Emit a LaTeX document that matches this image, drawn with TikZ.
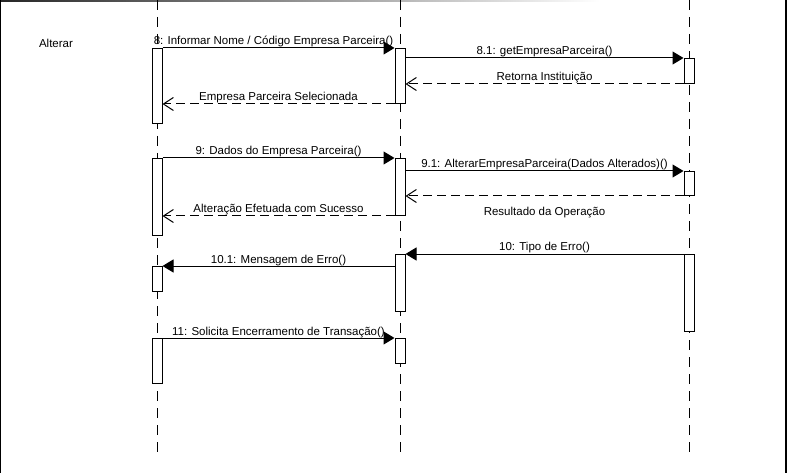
\documentclass[tikz,border=0pt]{standalone}
\usepackage{fontspec}
\setmainfont{Liberation Sans}
\usetikzlibrary{arrows.meta}
\begin{document}
\begin{tikzpicture}[x=1pt,y=-1pt,line width=1pt,
  every node/.style={font=\fontsize{11.5}{14}\selectfont},
  act/.style={draw,fill=white,minimum width=10pt,inner sep=0pt,anchor=north},
  life/.style={dash pattern=on 10pt off 7pt},
  call/.style={-{Triangle[length=11pt,width=13pt]}},
  reply/.style={dash pattern=on 9pt off 5pt,-{Straight Barb[length=10pt,width=13pt]}},
  lbl/.style={above,inner sep=0pt,text height=8.5pt,text depth=2.5pt},
  lblb/.style={below,inner sep=0pt,yshift=-10pt,text height=8.5pt,text depth=2.5pt}]
\useasboundingbox (0,0) rectangle (787,473);
% frame
\shade[left color=black!85,right color=white] (0,0) rectangle (600,1.2);
\draw (0.5,0) -- (0.5,473);
\draw[line width=1.5pt] (786,0) -- (786,473);
% lifelines
\coordinate (L1t) at (157,0); \coordinate (L1b) at (157,459);
\coordinate (L2t) at (400,0); \coordinate (L2b) at (400,458);
\coordinate (L3t) at (689,0); \coordinate (L3b) at (689,458);
\draw[life] (L1t) -- (L1b);
\draw[life] (L2t) -- (L2b);
\draw[life] (L3t) -- (L3b);
\node (alt) at (56,43) {Alterar};
% activations
\node[act,minimum height=75pt] (A1) at (157,48) {};
\node[act,minimum height=55pt] (B1) at (400,48) {};
\node[act,minimum height=25pt] (C1) at (689,58) {};
\node[act,minimum height=77pt] (A2) at (157,158) {};
\node[act,minimum height=57pt] (B2) at (400,158) {};
\node[act,minimum height=24pt] (C2) at (689,171) {};
\node[act,minimum height=57pt] (B3) at (400,254) {};
\node[act,minimum height=77pt] (C3) at (689,254) {};
\node[act,minimum height=25pt] (A3) at (157,266) {};
\node[act,minimum height=45pt] (A4) at (157,338) {};
\node[act,minimum height=25pt] (B4) at (400,338) {};
% messages
\draw[call] (A1.north east) -- node[lbl,xshift=-5pt]{8: Informar Nome / Código Empresa Parceira()} (B1.north west);
\draw[call] (B1.east |- C1.north) -- node[lbl]{8.1: getEmpresaParceira()} (C1.north west);
\draw[reply] (C1.south west) -- node[lbl]{Retorna Instituição} (B1.east |- C1.south);
\draw[reply] (B1.south west) -- node[lbl]{Empresa Parceira Selecionada} (A1.east |- B1.south);
\draw[call] (A2.north east) -- node[lbl]{9: Dados do Empresa Parceira()} (B2.north west);
\draw[call] (B2.east |- C2.north) -- node[lbl]{9.1: AlterarEmpresaParceira(Dados Alterados)()} (C2.north west);
\draw[reply] (C2.south west) -- node[lblb]{Resultado da Operação} (B2.east |- C2.south);
\draw[reply] (B2.south west) -- node[lbl]{Alteração Efetuada com Sucesso} (A2.east |- B2.south);
\draw[call] (C3.north west) -- node[lbl]{10: Tipo de Erro()} (B3.north east);
\draw[call] (B3.west |- A3.north) -- node[lbl]{10.1: Mensagem de Erro()} (A3.north east);
\draw[call] (A4.north east) -- node[lbl]{11: Solicita Encerramento de Transação()} (B4.north west);
\end{tikzpicture}
\end{document}
